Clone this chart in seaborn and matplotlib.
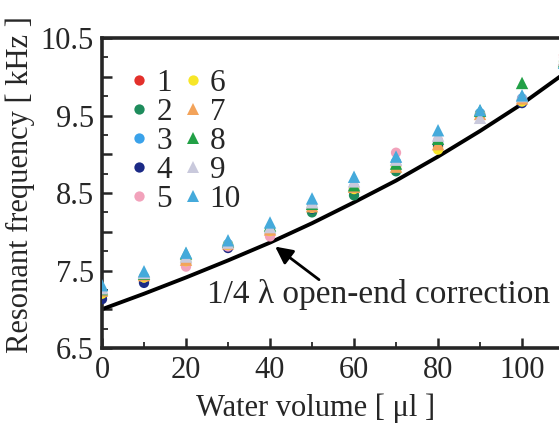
import numpy as np
import pandas as pd
import seaborn as sns
import matplotlib.pyplot as plt
from matplotlib.ticker import FixedLocator, FuncFormatter

# water volume [ul] at which each trial was measured
volume = [0, 10, 20, 30, 40, 50, 60, 70, 80, 90, 100, 110]

# resonant frequency [kHz] for trials 1..10
f1 = [7.20, 7.40, 7.60, 7.82, 7.97, 8.30, 8.52, 8.85, 9.10, 9.52, 9.70, 10.28]
f2 = [7.18, 7.38, 7.62, 7.83, 7.98, 8.25, 8.47, 8.78, 9.12, 9.51, 9.70, 10.20]
f3 = [7.22, 7.42, 7.64, 7.84, 8.02, 8.33, 8.58, 8.90, 9.16, 9.53, 9.72, 10.18]
f4 = [7.13, 7.34, 7.59, 7.79, 7.99, 8.30, 8.55, 8.86, 9.14, 9.50, 9.66, 10.15]
f5 = [7.21, 7.41, 7.55, 7.81, 7.94, 8.31, 8.56, 9.02, 9.18, 9.50, 9.71, 10.25]
f6 = [7.20, 7.41, 7.62, 7.83, 8.01, 8.31, 8.55, 8.84, 9.06, 9.51, 9.68, 10.20]
f7 = [7.24, 7.44, 7.64, 7.85, 8.03, 8.33, 8.58, 8.84, 9.13, 9.52, 9.72, 10.22]
f8 = [7.26, 7.46, 7.72, 7.87, 8.08, 8.36, 8.60, 8.88, 9.20, 9.56, 9.92, 10.20]
f9 = [7.27, 7.47, 7.68, 7.86, 8.06, 8.38, 8.65, 8.93, 9.24, 9.47, 9.75, 10.22]
f10 = [7.31, 7.49, 7.73, 7.89, 8.12, 8.43, 8.71, 8.97, 9.31, 9.57, 9.76, 10.18]
trials = [f1, f2, f3, f4, f5, f6, f7, f8, f9, f10]
names = ['1', '2', '3', '4', '5', '6', '7', '8', '9', '10']

# 1/4 lambda open-end correction curve
curve_x = [0, 10, 20, 30, 40, 50, 60, 70, 80, 90, 100, 110]
curve_y = [7.00, 7.20, 7.41, 7.63, 7.86, 8.11, 8.38, 8.66, 8.97, 9.30, 9.65, 10.04]

colors = ['#e3302b', '#1e8c5c', '#3aa2ea', '#1b2a86', '#f2a2bb',
          '#f7e628', '#f3a35a', '#22a046', '#c9c9dc', '#45aadb']
markers = ['o'] * 6 + ['^'] * 4
msizes = [55] * 6 + [80] * 4

rows = []
for name, vals in zip(names, trials):
    for v, f in zip(volume, vals):
        rows.append((name, v, f))
df = pd.DataFrame(rows, columns=['trial', 'volume', 'freq'])

sns.set_style('ticks')
plt.rcParams['font.family'] = ['Liberation Serif', 'DejaVu Serif']

fig = plt.figure(figsize=(5.59, 4.23), dpi=100)
ax = fig.add_axes([102 / 559, 75 / 423, 457 / 559, 310 / 423])

sns.lineplot(x=curve_x, y=curve_y, ax=ax, color='black', lw=2.8)
sns.scatterplot(data=df, x='volume', y='freq', hue='trial', style='trial',
                size='trial', hue_order=names, style_order=names,
                size_order=names, sizes=dict(zip(names, msizes)),
                palette=dict(zip(names, colors)),
                markers=dict(zip(names, markers)),
                linewidth=0, ax=ax, legend='full', zorder=3)

ax.set_xlim(0, 108.8)
ax.set_ylim(6.5, 10.5)

ax.xaxis.set_major_locator(FixedLocator(np.arange(0, 101, 20)))
ax.xaxis.set_minor_locator(FixedLocator(np.arange(10, 101, 20)))
ax.yaxis.set_major_locator(FixedLocator(np.arange(6.5, 10.51, 0.5)))
ax.yaxis.set_minor_locator(FixedLocator(np.arange(6.75, 10.5, 0.5)))
ax.yaxis.set_major_formatter(FuncFormatter(
    lambda v, p: f'{v:.1f}' if abs((v - 6.5) % 1) < 1e-6 else ''))

ax.tick_params(which='major', direction='in', length=7, width=1.8,
               labelsize=22, pad=6)
ax.tick_params(which='minor', direction='in', length=4, width=1.3)

for side in ['left', 'bottom', 'top']:
    ax.spines[side].set_linewidth(2.6)
ax.spines['right'].set_visible(False)

ax.set_xlabel('Water volume [ μl ]', fontsize=22, va='center')
ax.xaxis.set_label_coords(0.468, -0.194)
ax.set_ylabel('Resonant frequency [ kHz ]', fontsize=22, va='center')
ax.yaxis.set_label_coords(-0.178, 0.526)

ax.annotate('', xy=(40.7, 7.83), xytext=(52.2, 7.36),
            arrowprops=dict(arrowstyle='-|>', color='black', lw=2.0,
                            mutation_scale=26))
ax.text(25, 7.08, '1/4 λ open-end correction', fontsize=24, va='baseline')

handles, labels = ax.get_legend_handles_labels()
ax.legend(handles, labels, ncol=2, loc='upper left',
          bbox_to_anchor=(0.01, 0.95), frameon=False, fontsize=22.5,
          handletextpad=0.0, columnspacing=0.1, labelspacing=0.0,
          handlelength=1.1, borderpad=0, markerscale=1.0)

fig.savefig('out.png', dpi=100)
